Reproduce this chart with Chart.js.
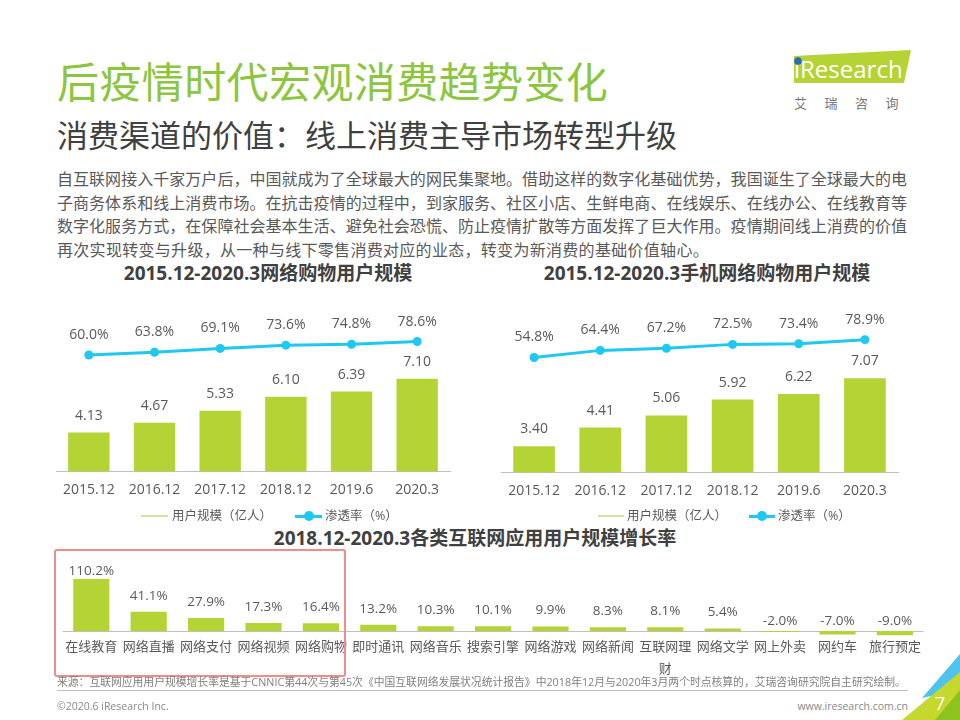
<!DOCTYPE html>
<html>
<head>
<meta charset="utf-8">
<script src="https://cdn.jsdelivr.net/npm/chart.js@4.4.1/dist/chart.umd.min.js"></script>
<style>
  body { margin: 0; background: #fff; }
  #page { position: relative; width: 960px; height: 720px; overflow: hidden; background: #fff;
    font-family: "Open Sans", "Noto Sans CJK SC", sans-serif; color: #595959; }
  .abs { position: absolute; white-space: nowrap; }
  #title { left: 57px; top: 60px; font-size: 42px; line-height: 44px; color: #8cc63f; letter-spacing: 0.4px; }
  #subtitle { left: 57px; top: 118px; font-size: 31px; line-height: 34px; color: #404040; }
  #para { left: 57px; top: 168px; width: 850px; font-size: 16px; line-height: 23.7px; color: #595959; }
  #para div { text-align: justify; text-align-last: justify; white-space: nowrap; }
  #para div.last { text-align-last: left; letter-spacing: 0.3px; }
  .ctitle { font-size: 19px; font-weight: bold; color: #404040; line-height: 22px; transform: translateX(-50%); }
  .lg-text { font-size: 12.5px; line-height: 16px; color: #595959; }
  .lg-bar { height: 1.5px; background: #d3e39b; }
  .lg-line { height: 3px; background: #1ec8f0; }
  .lg-dot { width: 10px; height: 10px; border-radius: 50%; background: #1ec8f0; }
  canvas { position: absolute; }
</style>
</head>
<body>
<div id="page">
  <div class="abs" id="title">后疫情时代宏观消费趋势变化</div>
  <div class="abs" id="subtitle">消费渠道的价值：线上消费主导市场转型升级</div>
  <div class="abs" id="para">
    <div>自互联网接入千家万户后，中国就成为了全球最大的网民集聚地。借助这样的数字化基础优势，我国诞生了全球最大的电</div>
    <div>子商务体系和线上消费市场。在抗击疫情的过程中，到家服务、社区小店、生鲜电商、在线娱乐、在线办公、在线教育等</div>
    <div>数字化服务方式，在保障社会基本生活、避免社会恐慌、防止疫情扩散等方面发挥了巨大作用。疫情期间线上消费的价值</div>
    <div class="last">再次实现转变与升级，从一种与线下零售消费对应的业态，转变为新消费的基础价值轴心。</div>
  </div>

  <!-- logo -->
  <svg class="abs" style="left:780px;top:44px" width="140" height="70">
    <polygon points="14,12 131,6 124,39 14,39" fill="#b5d334"/>
    <text x="14" y="34" font-family="Open Sans, sans-serif" font-size="24" fill="#fff">iResearch</text>
    <circle cx="18" cy="17" r="3.8" fill="#2a6db5"/>
  </svg>
  <div class="abs" style="left:794px;top:93px;font-size:13px;color:#777;letter-spacing:17.5px">艾瑞咨询</div>

  <div class="abs ctitle" style="left:268px;top:262px">2015.12-2020.3网络购物用户规模</div>
  <div class="abs ctitle" style="left:707px;top:262px">2015.12-2020.3手机网络购物用户规模</div>
  <div class="abs ctitle" style="left:475px;top:527px">2018.12-2020.3各类互联网应用用户规模增长率</div>

  <canvas id="c1" width="430" height="208" style="left:40px;top:300px"></canvas>
  <canvas id="c2" width="440" height="209" style="left:480px;top:300px"></canvas>

  <!-- legends -->
  <div class="abs lg-bar" style="left:141px;top:515px;width:27px"></div>
  <div class="abs lg-text" style="left:172px;top:508px">用户规模（亿人）</div>
  <div class="abs lg-line" style="left:295px;top:514.5px;width:27px"></div>
  <div class="abs lg-dot" style="left:303.5px;top:511px"></div>
  <div class="abs lg-text" style="left:325px;top:508px">渗透率（%）</div>

  <div class="abs lg-bar" style="left:598px;top:515px;width:26px"></div>
  <div class="abs lg-text" style="left:627px;top:508px">用户规模（亿人）</div>
  <div class="abs lg-line" style="left:749px;top:514.5px;width:26px"></div>
  <div class="abs lg-dot" style="left:757px;top:511px"></div>
  <div class="abs lg-text" style="left:778px;top:508px">渗透率（%）</div>

  <canvas id="c3" width="900" height="130" style="left:40px;top:550px"></canvas>
  <div class="abs" style="left:54px;top:549px;width:292px;height:128px;border:2px solid #f28b8b;border-radius:3px;box-sizing:border-box"></div>

  <div class="abs" style="left:57px;top:675px;font-size:10.8px;line-height:14px;color:#7f7f7f">来源：互联网应用用户规模增长率是基于CNNIC第44次与第45次《中国互联网络发展状况统计报告》中2018年12月与2020年3月两个时点核算的，艾瑞咨询研究院自主研究绘制。</div>
  <div class="abs" style="left:57px;top:690px;width:851px;height:1px;background:#bfbfbf"></div>
  <div class="abs" style="left:57px;top:699px;font-size:10.5px;line-height:14px;color:#888">©2020.6 iResearch Inc.</div>
  <div class="abs" style="right:52px;top:699px;font-size:10.5px;line-height:14px;color:#888">www.iresearch.com.cn</div>

  <!-- corner decoration -->
  <svg class="abs" style="left:880px;top:640px" width="80" height="80">
    <polygon points="42,58 80,14 80,50" fill="#4fc3ee"/>
    <polygon points="22,80 80,32 80,80" fill="#c4d82e"/>
    <polygon points="55,80 80,50 80,80" fill="#8dc21f"/>
    <text x="60" y="70" font-family="Open Sans, sans-serif" font-size="19" fill="#fff" text-anchor="middle">7</text>
  </svg>
</div>

<script>
  const FONT = '"Open Sans", "Noto Sans CJK SC", sans-serif';
  Chart.defaults.font.family = FONT;
  Chart.defaults.color = '#595959';

  // top charts
  const periods = ['2015.12', '2016.12', '2017.12', '2018.12', '2019.6', '2020.3'];
  const shopUsers = [4.13, 4.67, 5.33, 6.10, 6.39, 7.10];
  const shopRate = [60.0, 63.8, 69.1, 73.6, 74.8, 78.6];
  const mobileUsers = [3.40, 4.41, 5.06, 5.92, 6.22, 7.07];
  const mobileRate = [54.8, 64.4, 67.2, 72.5, 73.4, 78.9];

  // bottom chart
  const appNames = ['在线教育', '网络直播', '网络支付', '网络视频', '网络购物', '即时通讯', '网络音乐',
    '搜索引擎', '网络游戏', '网络新闻', ['互联网理', '财'], '网络文学', '网上外卖', '网约车', '旅行预定'];
  const appGrowth = [110.2, 41.1, 27.9, 17.3, 16.4, 13.2, 10.3, 10.1, 9.9, 8.3, 8.1, 5.4, -2.0, -7.0, -9.0];

  const GREEN = '#b4d335';
  const CYAN = '#1ec8f0';

  function labelPlugin(specs, fontSize) {
    return {
      id: 'valueLabels',
      afterDatasetsDraw(chart) {
        const ctx = chart.ctx;
        ctx.save();
        ctx.font = fontSize + 'px ' + FONT;
        ctx.fillStyle = '#595959';
        ctx.textAlign = 'center';
        ctx.textBaseline = 'middle';
        chart.data.datasets.forEach(function (ds, i) {
          const spec = specs[i];
          chart.getDatasetMeta(i).data.forEach(function (el, j) {
            const v = ds.data[j];
            ctx.fillText(spec.fmt(v), el.x, spec.y(el, v, chart));
          });
        });
        ctx.restore();
      }
    };
  }

  function comboChart(id, users, rate, pad) {
    new Chart(document.getElementById(id), {
      type: 'bar',
      data: {
        labels: periods,
        datasets: [
          { type: 'line', data: rate, yAxisID: 'y2', borderColor: CYAN, backgroundColor: CYAN,
            borderWidth: 3, pointRadius: 4.5, pointBackgroundColor: CYAN, pointBorderWidth: 0, order: 0 },
          { type: 'bar', data: users, yAxisID: 'y', backgroundColor: GREEN,
            categoryPercentage: 1, barPercentage: 0.63, order: 1 }
        ]
      },
      options: {
        responsive: false,
        animation: false,
        layout: { padding: pad },
        plugins: { legend: { display: false }, tooltip: { enabled: false } },
        scales: {
          x: { grid: { display: false, drawTicks: false }, border: { color: '#bfbfbf', width: 1 },
               ticks: { padding: 10, font: { size: 14 }, color: '#595959' } },
          y: { display: false, min: 2, max: 10 },
          y2: { display: false, min: -100, max: 100 }
        }
      },
      plugins: [labelPlugin([
        { fmt: v => v.toFixed(1) + '%', y: el => el.y - 20 },
        { fmt: v => v.toFixed(2), y: el => el.y - 17 }
      ], 14)]
    });
  }

  comboChart('c1', shopUsers, shopRate, { left: 16, right: 20, top: 26, bottom: 0 });
  comboChart('c2', mobileUsers, mobileRate, { left: 21, right: 22, top: 24, bottom: 0 });

  const zeroLine = {
    id: 'zeroLine',
    beforeDatasetsDraw(chart) {
      const ctx = chart.ctx;
      const y = Math.round(chart.scales.y.getPixelForValue(0)) + 0.5;
      ctx.save();
      ctx.strokeStyle = '#bfbfbf';
      ctx.lineWidth = 1;
      ctx.beginPath();
      ctx.moveTo(chart.chartArea.left, y);
      ctx.lineTo(chart.chartArea.right, y);
      ctx.stroke();
      ctx.restore();
    }
  };

  new Chart(document.getElementById('c3'), {
    type: 'bar',
    data: {
      labels: appNames,
      datasets: [{ data: appGrowth, backgroundColor: GREEN, categoryPercentage: 1, barPercentage: 0.63 }]
    },
    options: {
      responsive: false,
      animation: false,
      layout: { padding: { left: 22.6, right: 16.4, top: 24.4, bottom: 0 } },
      plugins: { legend: { display: false }, tooltip: { enabled: false } },
      scales: {
        x: { grid: { display: false, drawTicks: false }, border: { display: false },
             ticks: { padding: 0, autoSkip: false, maxRotation: 0, font: { size: 13, lineHeight: 1.7 }, color: '#595959' } },
        y: { display: false, min: -10, max: 120 }
      }
    },
    plugins: [zeroLine, labelPlugin([
      { fmt: v => v.toFixed(1) + '%',
        y: (el, v, chart) => v >= 0 ? Math.max(el.y - 16, chart.chartArea.top - 3) : el.base - 10 }
    ], 13.5)]
  });
</script>
</body>
</html>
